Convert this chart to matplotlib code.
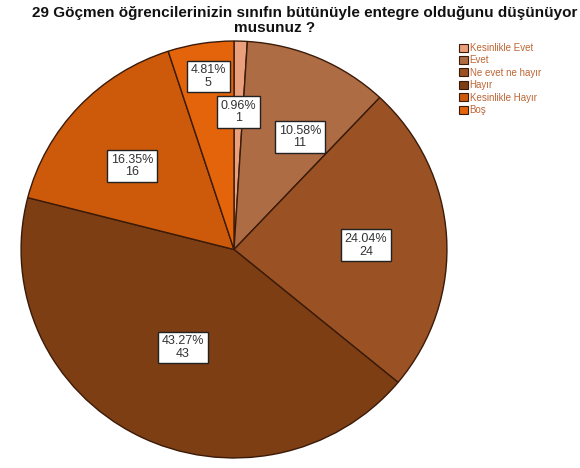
import matplotlib.pyplot as plt
from matplotlib.patches import Patch

plt.rcParams['font.family'] = ['Liberation Sans', 'DejaVu Sans']

categories = ["Kesinlikle Evet", "Evet", "Ne evet ne hayır", "Hayır", "Kesinlikle Hayır", "Boş"]
counts = [1, 11, 24, 43, 16, 5]
percents = [0.96, 10.58, 24.04, 43.27, 16.35, 4.81]
colors = ["#EAA07C", "#AE6C44", "#9A5224", "#7E3E14", "#CC5A0A", "#E4640C"]
# where SPSS put the value boxes (fraction of radius)
label_pos = [(0.02, 0.66), (0.31, 0.54), (0.62, 0.02), (-0.24, -0.47), (-0.48, 0.40), (-0.12, 0.83)]

fig = plt.figure(figsize=(5.8, 4.68), dpi=100, facecolor="white")
# pie is drawn slightly squashed, like the original export
ax = fig.add_axes([20 / 580, 9 / 468, 428 / 580, 419 / 468])
ax.pie(counts, colors=colors, startangle=90, counterclock=False, radius=1,
       wedgeprops=dict(edgecolor="#3A1A08", linewidth=1.0))
ax.set_xlim(-1.005, 1.005)
ax.set_ylim(-1.005, 1.005)
ax.set_aspect("auto")
ax.axis("off")

for (x, y), p, c in zip(label_pos, percents, counts):
    ax.text(x, y, f"{p:.2f}%\n{c}", ha="center", va="center", fontsize=9,
            color="#333333", linespacing=1.05,
            bbox=dict(boxstyle="square,pad=0.3", facecolor="white", edgecolor="#222222", linewidth=1.0))

fig.text(32 / 580, 1 - 13 / 468, "29 Göçmen öğrencilerinizin sınıfın bütünüyle entegre olduğunu düşünüyor",
         ha="left", va="center", fontsize=11, fontweight="bold", color="#111111")
fig.text(275 / 580, 1 - 28 / 468, "musunuz ?", ha="center", va="center",
         fontsize=11, fontweight="bold", color="#111111")

handles = [Patch(facecolor=col, edgecolor="#3A1A08", linewidth=0.8) for col in colors]
leg = fig.legend(handles, categories, loc="upper left", bbox_to_anchor=(455 / 580, 1 - 39 / 468),
                 frameon=False, fontsize=7, handlelength=0.9, handleheight=0.9,
                 handletextpad=0.2, labelspacing=0.25, borderaxespad=0)
for t in leg.get_texts():
    t.set_color("#BC6634")

fig.savefig("out.png", dpi=100, facecolor="white")
